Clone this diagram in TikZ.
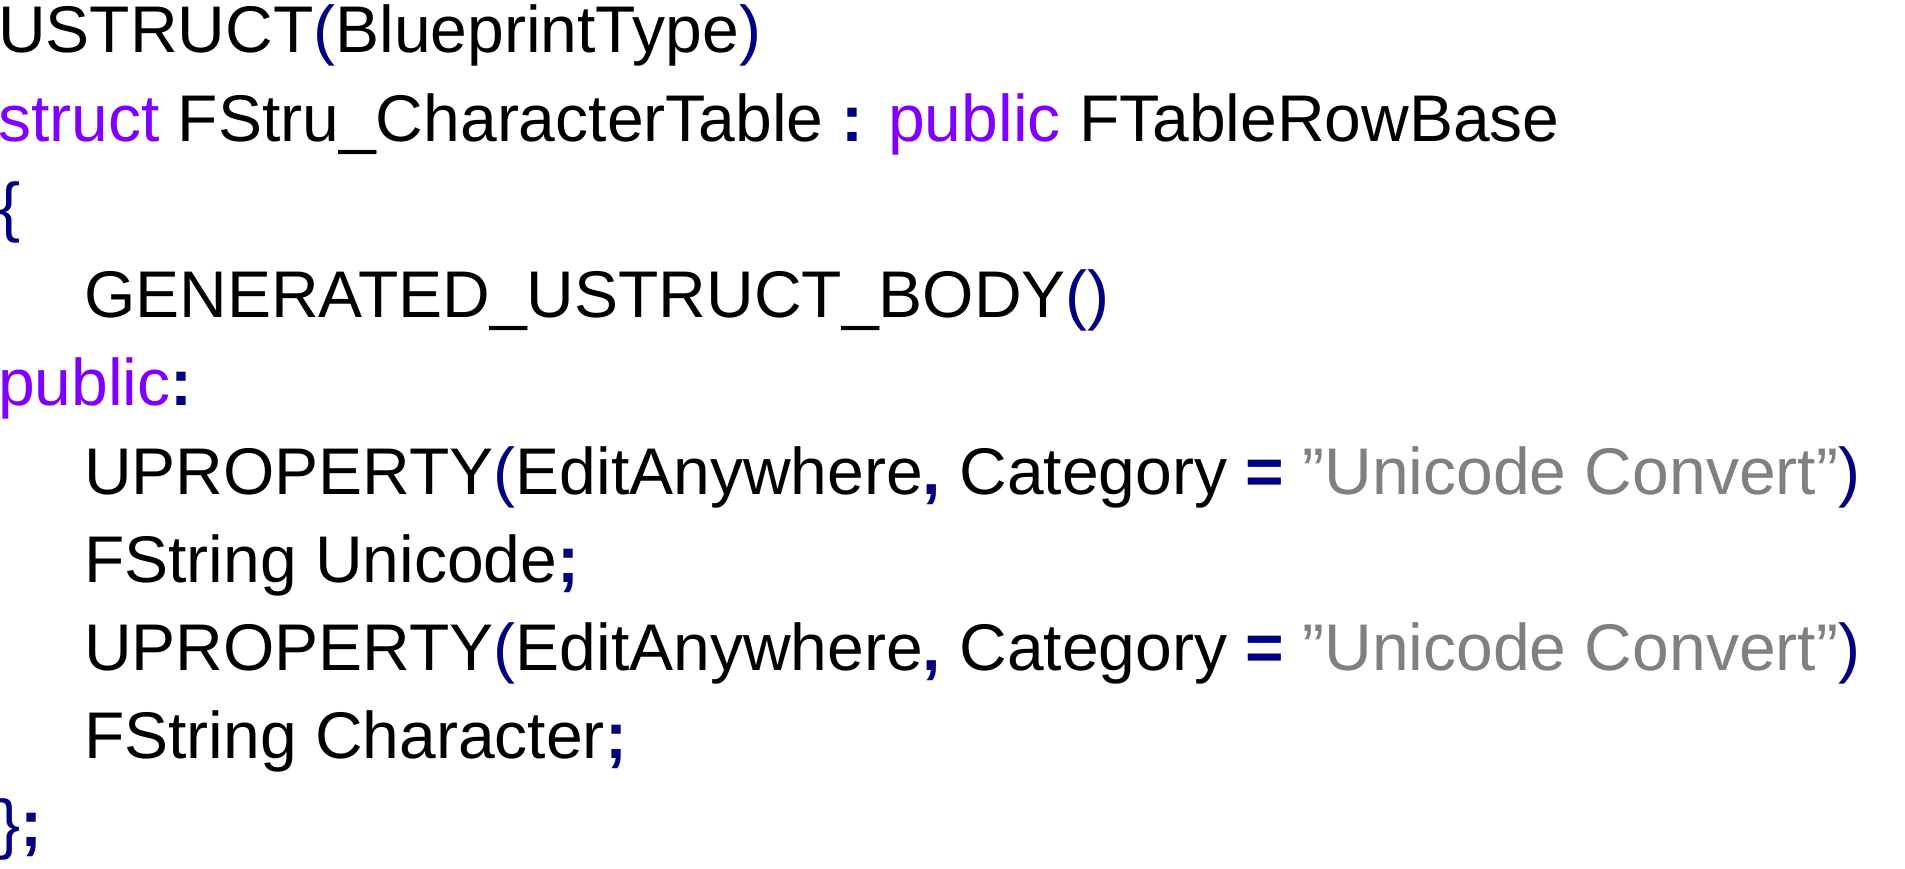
\documentclass[tikz,border=0pt]{standalone}
\usepackage{fontspec}
\setmainfont{Liberation Sans}
\definecolor{kwpurple}{HTML}{8000FF}
\definecolor{opnavy}{HTML}{000080}
\definecolor{strgray}{HTML}{808080}
\newcommand{\codekw}[1]{\textcolor{kwpurple}{#1}}
\newcommand{\codeop}[1]{\textcolor{opnavy}{\bfseries #1}}
\newcommand{\codebr}[1]{\textcolor{opnavy}{#1}}
\newcommand{\codestr}[1]{\textcolor{strgray}{#1}}
\begin{document}
\begin{tikzpicture}[x=1pt,y=1pt,
    code/.style={anchor=base west,inner sep=0pt,font=\fontsize{66}{88}\selectfont}]
\useasboundingbox (0,0) rectangle (1905,-869);
\node[code] (ustruct) at (-2,-53) {USTRUCT\codebr{(}BlueprintType\codebr{)}};
\node[code] (head) at (-2,-141.2) {\codekw{struct} FStru\_CharacterTable \codeop{:} \codekw{public} FTableRowBase};
\node[code] (open) at (-2,-229.4) {\codebr{\{}};
\node[code] (body) at (84,-317.6) {GENERATED\_USTRUCT\_BODY\codebr{()}};
\node[code] (pub) at (-2,-405.8) {\codekw{public}\codeop{:}};
\node[code] (prop1) at (84,-494) {UPROPERTY\codebr{(}EditAnywhere\codeop{,} Category \codeop{=} \codestr{”Unicode Convert”}\codebr{)}};
\node[code] (uni) at (84,-582.2) {FString Unicode\codeop{;}};
\node[code] (prop2) at (84,-670.4) {UPROPERTY\codebr{(}EditAnywhere\codeop{,} Category \codeop{=} \codestr{”Unicode Convert”}\codebr{)}};
\node[code] (chr) at (84,-758.6) {FString Character\codeop{;}};
\node[code] (close) at (-2,-846.8) {\codebr{\}}\codeop{;}};
\end{tikzpicture}
\end{document}
